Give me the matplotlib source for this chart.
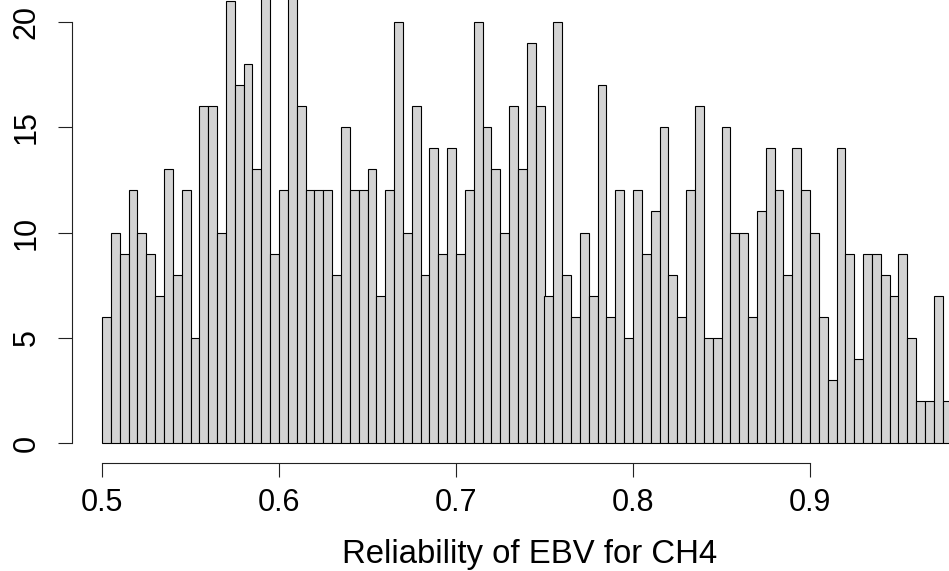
import matplotlib
matplotlib.use("Agg")
import matplotlib.pyplot as plt
import numpy as np

plt.rcParams['font.family'] = ['Liberation Sans', 'DejaVu Sans']

# histogram of EBV reliability, bins of 0.005 starting at 0.5
bin_start = 0.5
bin_width = 0.005
counts = [6, 10, 9, 12, 10, 9, 7, 13, 8, 12,
          5, 16, 16, 10, 21, 17, 18, 13, 23, 9,
          12, 22, 16, 12, 12, 12, 8, 15, 12, 12,
          13, 7, 12, 20, 10, 16, 8, 14, 9, 14,
          9, 12, 20, 15, 13, 10, 16, 13, 19, 16,
          7, 20, 8, 6, 10, 7, 17, 6, 12, 5,
          12, 9, 11, 15, 8, 6, 12, 16, 5, 5,
          15, 10, 10, 6, 11, 14, 12, 8, 14, 12,
          10, 6, 3, 14, 9, 4, 9, 9, 8, 7,
          9, 5, 2, 2, 7, 2]
x_ticks = [0.5, 0.6, 0.7, 0.8, 0.9]
y_ticks = [0, 5, 10, 15, 20]

left_edges = bin_start + bin_width * np.arange(len(counts))

W, H = 949, 571
fig = plt.figure(figsize=(W / 100, H / 100), dpi=100)
# axes box: left at the y axis line, bottom at the x axis line
ax = fig.add_axes([72 / W, (H - 463) / H, 1 - 72 / W, 463 / H])

ax.bar(left_edges, counts, width=bin_width, align='edge',
       color='#d3d3d3', edgecolor='black', linewidth=0.8)

for s in ['top', 'right']:
    ax.spines[s].set_visible(False)
ax.spines['left'].set_bounds(0, 20)
ax.spines['bottom'].set_bounds(0.5, 0.9)
for s in ['left', 'bottom']:
    ax.spines[s].set_linewidth(0.8)
    ax.spines[s].set_color('#222222')

ax.set_xticks(x_ticks)
ax.set_xticklabels([f'{v:.1f}' for v in x_ticks])
ax.set_yticks(y_ticks)
ax.set_yticklabels([str(v) for v in y_ticks], rotation=90, va='center')
ax.tick_params(direction='out', length=10, width=0.8, color='#222222',
               labelsize=22, pad=8)
ax.tick_params(axis='y', pad=12)

# limits set after the ticks so the ticks do not widen them
px_x = 1770.0   # pixels per data unit in x
px_y = 21.05    # pixels per count
ax.set_xlim(0.5 - 30 / px_x, 0.5 + (W - 102) / px_x)
ax.set_ylim(-20 / px_y, 443 / px_y)

ax.set_xlabel('Reliability of EBV for CH4', fontsize=23.7)
# R centres the label on the (wider, cropped) plot region
ax.xaxis.set_label_coords((530 - 72) / (W - 72), -(563 - 463) / 463, transform=ax.transAxes)
ax.xaxis.label.set_va('baseline')

fig.savefig('out.png', dpi=100)
